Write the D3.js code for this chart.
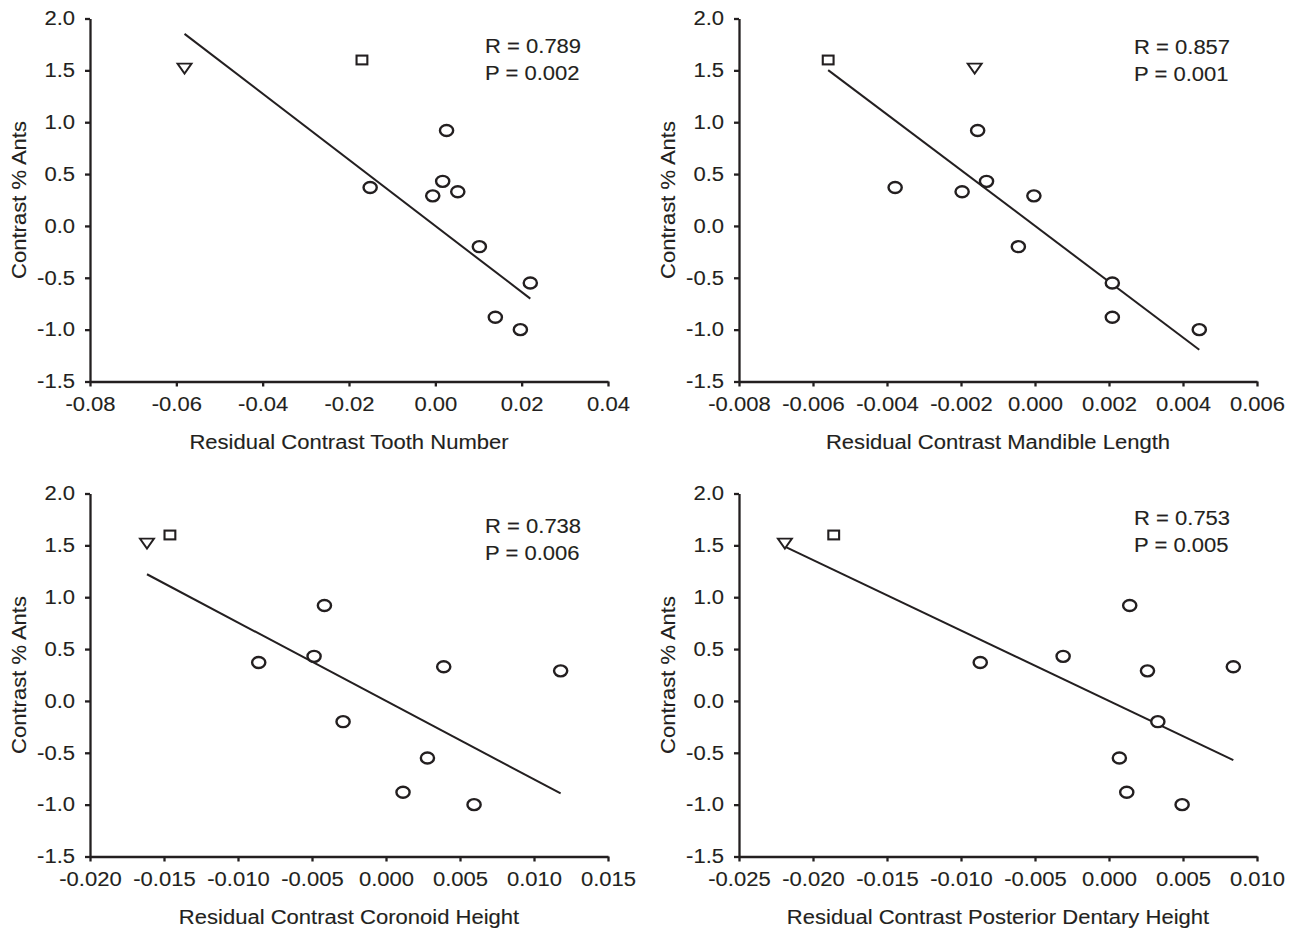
<!DOCTYPE html>
<html>
<head>
<meta charset="utf-8">
<script src="https://cdn.jsdelivr.net/npm/d3@7"></script>
<style>
body { margin: 0; background: #fff; }
svg text { font-family: "Liberation Sans", Arial, sans-serif; font-size: 19.5px; fill: #231f20; stroke: #231f20; stroke-width: 0.12px; }
</style>
</head>
<body>
<svg id="chart" width="1298" height="940"></svg>
<script>
// same 11 contrasts in every panel: triangle, square, then the 9 circles
var shapes = ["triangle", "square", "circle", "circle", "circle", "circle", "circle", "circle", "circle", "circle", "circle"]
var antsY = [1.52, 1.60, 0.92, 0.43, 0.37, 0.33, 0.29, -0.20, -0.55, -0.88, -1.00]

// residual contrasts, one array per panel (same order as antsY)
var toothX = [-0.0581, -0.0170, 0.0026, 0.0017, -0.0151, 0.0052, -0.0006, 0.0102, 0.0220, 0.0139, 0.0197]
var mandibleX = [-0.00163, -0.00559, -0.00155, -0.00131, -0.00378, -0.00197, -0.00003, -0.00045, 0.00209, 0.00209, 0.00444]
var coronoidX = [-0.01615, -0.0146, -0.00416, -0.00486, -0.0086, 0.0039, 0.0118, -0.0029, 0.0028, 0.00115, 0.00595]
var dentaryX = [-0.0219, -0.0186, 0.0014, -0.0031, -0.0087, 0.0084, 0.0026, 0.0033, 0.0007, 0.0012, 0.00494]

var yTicks = [-1.5, -1.0, -0.5, 0.0, 0.5, 1.0, 1.5, 2.0]
var yTickLabels = ["-1.5", "-1.0", "-0.5", "0.0", "0.5", "1.0", "1.5", "2.0"]

var toothTicks = [-0.08, -0.06, -0.04, -0.02, 0.00, 0.02, 0.04]
var toothLabels = ["-0.08", "-0.06", "-0.04", "-0.02", "0.00", "0.02", "0.04"]
var mandibleTicks = [-0.008, -0.006, -0.004, -0.002, 0.000, 0.002, 0.004, 0.006]
var mandibleLabels = ["-0.008", "-0.006", "-0.004", "-0.002", "0.000", "0.002", "0.004", "0.006"]
var coronoidTicks = [-0.020, -0.015, -0.010, -0.005, 0.000, 0.005, 0.010, 0.015]
var coronoidLabels = ["-0.020", "-0.015", "-0.010", "-0.005", "0.000", "0.005", "0.010", "0.015"]
var dentaryTicks = [-0.025, -0.020, -0.015, -0.010, -0.005, 0.000, 0.005, 0.010]
var dentaryLabels = ["-0.025", "-0.020", "-0.015", "-0.010", "-0.005", "0.000", "0.005", "0.010"]

var xTitles = ["Residual Contrast Tooth Number", "Residual Contrast Mandible Length",
               "Residual Contrast Coronoid Height", "Residual Contrast Posterior Dentary Height"]
var rTexts = ["R = 0.789", "R = 0.857", "R = 0.738", "R = 0.753"]
var pTexts = ["P = 0.002", "P = 0.001", "P = 0.006", "P = 0.005"]
var yTitle = "Contrast % Ants"

var ink = "#231f20"
var stretch = 1.13   // the figure's text is a bit wider than the font

var panels = [
    {xs: toothX, ticks: toothTicks, labels: toothLabels, left: 90, top: 18.5, statY: 34},
    {xs: mandibleX, ticks: mandibleTicks, labels: mandibleLabels, left: 739, top: 18.5, statY: 35},
    {xs: coronoidX, ticks: coronoidTicks, labels: coronoidLabels, left: 90, top: 493.5, statY: 39},
    {xs: dentaryX, ticks: dentaryTicks, labels: dentaryLabels, left: 739, top: 493.5, statY: 31}
]
var w = 518, h = 363

var svg = d3.select("#chart")

panels.forEach(function(p, k) {
    var g = svg.append("g").attr("transform", `translate(${p.left},${p.top})`)

    var xScale = d3.scaleLinear()
                    .domain([p.ticks[0], p.ticks[p.ticks.length - 1]])
                    .range([0, w])
    var yScale = d3.scaleLinear()
                    .domain([-1.5, 2.0])
                    .range([h, 0])

    var xAxis = g.append("g")
        .attr("transform", `translate(0,${h})`)
        .call(d3.axisBottom(xScale).tickValues(p.ticks)
              .tickFormat((d, i) => p.labels[i]).tickSize(5).tickSizeOuter(0).tickPadding(11))
    xAxis.selectAll("text").attr("transform", `scale(${stretch},1)`)

    var yAxis = g.append("g")
        .call(d3.axisLeft(yScale).tickValues(yTicks)
              .tickFormat((d, i) => yTickLabels[i]).tickSize(5).tickSizeOuter(0))
    yAxis.selectAll("text").attr("x", -15 / stretch).attr("transform", `scale(${stretch},1)`)

    g.selectAll(".domain, .tick line").attr("stroke", ink).attr("stroke-width", 2.3)
    g.selectAll(".tick text").attr("fill", ink)

    // regression through the origin (independent contrasts)
    var pts = p.xs.map((x, i) => ({x: x, y: antsY[i], shape: shapes[i]}))
    var slope = d3.sum(pts, d => d.x * d.y) / d3.sum(pts, d => d.x * d.x)
    var ext = d3.extent(p.xs)
    g.append("path")
        .datum(ext.map(x => [x, slope * x]))
        .attr("fill", "none")
        .attr("stroke", ink)
        .attr("stroke-width", 2)
        .attr("d", d3.line().x(d => xScale(d[0])).y(d => yScale(d[1])))

    var marks = g.selectAll(".mark")
        .data(pts)
        .enter()
        .append("g")
        .attr("transform", d => `translate(${xScale(d.x)},${yScale(d.y)})`)

    marks.filter(d => d.shape == "circle").append("ellipse")
        .attr("rx", 6.6).attr("ry", 5.5)
        .attr("fill", "#fff").attr("stroke", ink).attr("stroke-width", 2.4)
    marks.filter(d => d.shape == "square").append("rect")
        .attr("x", -5.4).attr("y", -4.4).attr("width", 10.8).attr("height", 8.8)
        .attr("fill", "#fff").attr("stroke", ink).attr("stroke-width", 2.1)
    marks.filter(d => d.shape == "triangle").append("path")
        .attr("d", "M-7,-4.7L7,-4.7L0,5.3Z")
        .attr("fill", "#fff").attr("stroke", ink).attr("stroke-width", 1.9)

    // titles
    g.append("text")
        .attr("transform", `translate(${w / 2},${h + 67}) scale(${stretch},1)`)
        .attr("text-anchor", "middle")
        .text(xTitles[k])
    g.append("text")
        .attr("transform", `translate(-64,${h / 2}) rotate(-90) scale(${stretch},1)`)
        .attr("text-anchor", "middle")
        .text(yTitle)

    g.append("text")
        .attr("transform", `translate(395,${p.statY}) scale(${stretch},1)`)
        .text(rTexts[k])
    g.append("text")
        .attr("transform", `translate(395,${p.statY + 27}) scale(${stretch},1)`)
        .text(pTexts[k])
})
</script>
</body>
</html>
